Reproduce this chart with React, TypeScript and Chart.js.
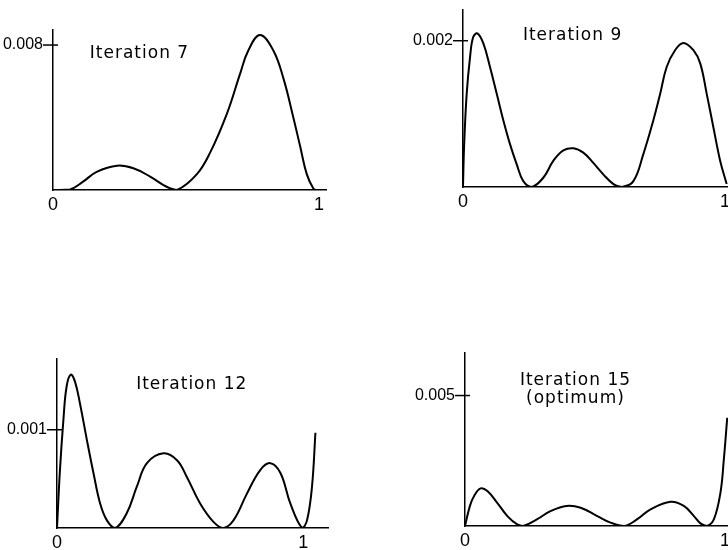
import React, { useEffect, useRef } from "react";
import { Chart, registerables } from "chart.js";

Chart.register(...registerables);

// ---- data (x in [0,1], y values) ----
const P1_X = [0, 0.064, 0.113, 0.164, 0.241, 0.302, 0.365, 0.427, 0.466, 0.54, 0.59, 0.653, 0.703, 0.734, 0.778, 0.828, 0.866, 0.903, 0.929, 0.954, 0.979, 0.99];
const P1_Y = [0, 0.00003, 0.00046, 0.001, 0.00134, 0.0012, 0.00074, 0.00018, 0, 0.00086, 0.00205, 0.00419, 0.00641, 0.0077, 0.00855, 0.0077, 0.00616, 0.00402, 0.0024, 0.00086, 0.00007, 0];

const P2_X = [0, 0.004, 0.014, 0.027, 0.039, 0.055, 0.078, 0.103, 0.129, 0.154, 0.179, 0.205, 0.23, 0.262, 0.307, 0.345, 0.383, 0.421, 0.459, 0.497, 0.536, 0.574, 0.606, 0.65, 0.688, 0.726, 0.752, 0.777, 0.809, 0.841, 0.879, 0.905, 0.93, 0.955, 0.981, 1.006];
const P2_Y = [0, 0.00054, 0.00127, 0.00178, 0.00205, 0.0021, 0.00196, 0.00164, 0.00127, 0.00091, 0.00059, 0.00031, 0.00008, 0, 0.00013, 0.00036, 0.0005, 0.00053, 0.00047, 0.00033, 0.00017, 0.00004, 0, 0.00008, 0.00045, 0.00091, 0.00127, 0.00164, 0.00187, 0.00197, 0.00187, 0.00169, 0.00127, 0.00082, 0.00036, 0.00004];

const P3_X = [0, 0.012, 0.026, 0.039, 0.056, 0.073, 0.093, 0.121, 0.148, 0.175, 0.202, 0.236, 0.283, 0.324, 0.365, 0.432, 0.487, 0.527, 0.581, 0.636, 0.676, 0.717, 0.771, 0.825, 0.866, 0.907, 0.947, 0.995, 1.015, 1.035, 1.049];
const P3_Y = [0, 0.00059, 0.0011, 0.00144, 0.00156, 0.00149, 0.00127, 0.0009, 0.00056, 0.00025, 0.00008, 0, 0.00015, 0.00042, 0.00066, 0.00076, 0.00069, 0.00052, 0.00025, 0.00006, 0, 0.00008, 0.00035, 0.00059, 0.00066, 0.00056, 0.00025, 0, 0.00008, 0.00042, 0.00097];

const P4_X = [0, 0.019, 0.035, 0.06, 0.086, 0.124, 0.163, 0.201, 0.224, 0.278, 0.329, 0.391, 0.445, 0.509, 0.56, 0.612, 0.663, 0.714, 0.791, 0.842, 0.881, 0.906, 0.932, 0.958, 0.983, 0.996, 1.009];
const P4_Y = [0, 0.00077, 0.00115, 0.00144, 0.00134, 0.00089, 0.00038, 0.00006, 0, 0.00026, 0.00057, 0.00077, 0.0007, 0.00038, 0.00013, 0, 0.00026, 0.00064, 0.00093, 0.00077, 0.00038, 0.0001, 0, 0.00026, 0.00128, 0.00255, 0.00415];

const X_TICKS = [0, 1];
const Y_TICK_1 = [0.008];
const Y_TICK_2 = [0.002];
const Y_TICK_3 = [0.001];
const Y_TICK_4 = [0.005];

const TITLE_1 = ["Iteration 7"];
const TITLE_2 = ["Iteration 9"];
const TITLE_3 = ["Iteration 12"];
const TITLE_4 = ["Iteration 15", "(optimum)"];

// ---- layout ----
const W = 728;
const H = 550;
const Y_AXIS_W = 50;
const X_AXIS_H = 20;

type Panel = {
  xs: number[];
  ys: number[];
  yTicks: number[];
  title: string[];
  area: { left: number; right: number; top: number; bottom: number };
  xMax: number;
  yMax: number;
  titleAt: { x: number; y: number };
};

const PANELS: Panel[] = [
  { xs: P1_X, ys: P1_Y, yTicks: Y_TICK_1, title: TITLE_1, area: { left: 53, right: 326, top: 30, bottom: 190 }, xMax: 1.026, yMax: 0.00883, titleAt: { x: 0.325, y: 0.00755 } },
  { xs: P2_X, ys: P2_Y, yTicks: Y_TICK_2, title: TITLE_2, area: { left: 463, right: 728, top: 10, bottom: 187 }, xMax: 1.011, yMax: 0.00242, titleAt: { x: 0.418, y: 0.00207 } },
  { xs: P3_X, ys: P3_Y, yTicks: Y_TICK_3, title: TITLE_3, area: { left: 57, right: 328, top: 359, bottom: 528 }, xMax: 1.1, yMax: 0.00172, titleAt: { x: 0.547, y: 0.00146 } },
  { xs: P4_X, ys: P4_Y, yTicks: Y_TICK_4, title: TITLE_4, area: { left: 465, right: 728, top: 353, bottom: 526 }, xMax: 1.012, yMax: 0.00663, titleAt: { x: 0.425, y: 0.00522 } },
];

const TITLE_FONT = "'DejaVu Sans', sans-serif";
const TICK_FONT = "'Liberation Sans', Arial, sans-serif";

function PanelChart({ p }: { p: Panel }) {
  const ref = useRef<HTMLCanvasElement | null>(null);
  useEffect(() => {
    if (!ref.current) return;
    const overlay = {
      id: "overlay",
      afterDraw(chart: any) {
        const ctx = chart.ctx;
        const ys = chart.scales.y;
        const left = chart.chartArea.left;
        ctx.save();
        ctx.strokeStyle = "#000";
        ctx.lineWidth = 1.5;
        for (const v of p.yTicks) {
          const py = ys.getPixelForValue(v);
          ctx.beginPath();
          ctx.moveTo(left - 10, py);
          ctx.lineTo(left + 5, py);
          ctx.stroke();
        }
        const xs = chart.scales.x;
        const cx = xs.getPixelForValue(p.titleAt.x);
        const cy = ys.getPixelForValue(p.titleAt.y);
        ctx.fillStyle = "#000";
        ctx.font = `17px ${TITLE_FONT}`;
        try { (ctx as any).letterSpacing = "1px"; } catch (e) {}
        ctx.textAlign = "center";
        ctx.textBaseline = "middle";
        const lh = 18;
        const n = p.title.length;
        p.title.forEach((t, i) => {
          ctx.fillText(t, cx, cy + (i - (n - 1) / 2) * lh);
        });
        ctx.restore();
      },
    };
    const chart = new Chart(ref.current, {
      type: "line",
      data: {
        datasets: [
          {
            data: p.xs.map((x, i) => ({ x, y: p.ys[i] })),
            borderColor: "#000",
            borderWidth: 2,
            pointRadius: 0,
            fill: false,
            tension: 0.4,
          },
        ],
      },
      options: {
        animation: false,
        responsive: false,
        maintainAspectRatio: false,
        layout: {
          padding: {
            left: p.area.left - Y_AXIS_W,
            right: W - p.area.right,
            top: p.area.top,
            bottom: H - p.area.bottom - X_AXIS_H,
          },
        },
        plugins: { legend: { display: false }, tooltip: { enabled: false }, title: { display: false } },
        scales: {
          x: {
            type: "linear",
            min: 0,
            max: p.xMax,
            grid: { display: false, drawTicks: false, tickLength: 0 },
            border: { display: true, color: "#000", width: 1.5 },
            ticks: {
              autoSkip: false,
              maxRotation: 0,
              padding: 4,
              color: "#000",
              font: { family: TICK_FONT, size: 18 },
              callback: (v: any) => String(v),
            },
            afterBuildTicks: (s: any) => {
              s.ticks = X_TICKS.map((v) => ({ value: v }));
            },
            afterFit: (s: any) => {
              s.height = X_AXIS_H;
              s.paddingLeft = 0;
              s.paddingRight = 0;
            },
          },
          y: {
            type: "linear",
            min: 0,
            max: p.yMax,
            grid: { display: false, drawTicks: false, tickLength: 0 },
            border: { display: true, color: "#000", width: 1.5 },
            ticks: {
              padding: 10,
              color: "#000",
              font: { family: TICK_FONT, size: 16 },
              callback: (v: any) => Number(v).toFixed(3),
            },
            afterBuildTicks: (s: any) => {
              s.ticks = p.yTicks.map((v) => ({ value: v }));
            },
            afterFit: (s: any) => {
              s.width = Y_AXIS_W;
              s.paddingTop = 0;
              s.paddingBottom = 0;
            },
          },
        },
      },
      plugins: [overlay],
    } as any);
    return () => chart.destroy();
  }, [p]);
  return (
    <canvas
      ref={ref}
      width={W}
      height={H}
      style={{ position: "absolute", left: 0, top: 0, width: W, height: H }}
    />
  );
}

export default function App() {
  return (
    <div style={{ position: "absolute", left: 0, top: 0, width: W, height: H, background: "#fff" }}>
      {PANELS.map((p, i) => (
        <PanelChart key={i} p={p} />
      ))}
    </div>
  );
}
